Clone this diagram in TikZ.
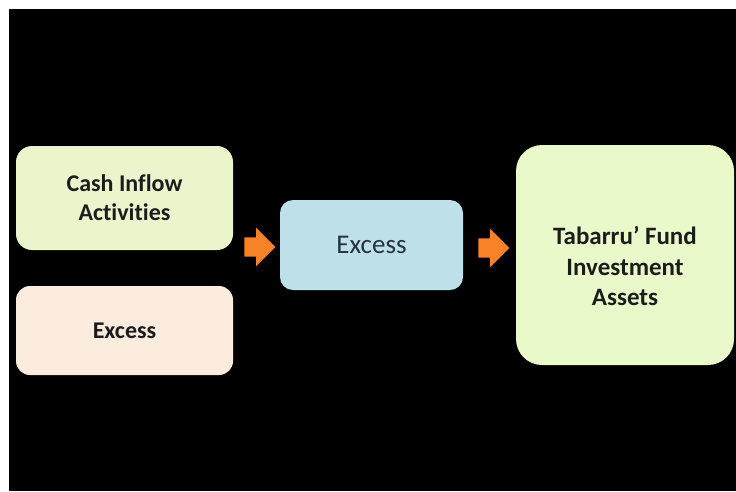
\documentclass[tikz,border=0pt]{standalone}
\usepackage{fontspec}
\setmainfont{Carlito}[Ligatures=NoCommon]
\usetikzlibrary{shapes.arrows}
\definecolor{cashfill}{RGB}{234,245,204}
\definecolor{peachfill}{RGB}{251,236,222}
\definecolor{bluefill}{RGB}{190,224,232}
\definecolor{fundfill}{RGB}{233,249,201}
\definecolor{arroworange}{RGB}{247,130,40}
\definecolor{txtdark}{RGB}{28,28,28}
\definecolor{txtblue}{RGB}{38,50,60}
\tikzset{
  box/.style={fill=#1, draw=none, inner sep=0pt, align=center, text=txtdark},
  boldtxt/.style={font=\fontsize{24}{29}\selectfont\bfseries},
  flowarrow/.style={single arrow, fill=arroworange, draw=none, inner xsep=0pt, inner ysep=9.5pt,
    text height=0pt, text depth=0pt,
    minimum height=31pt, minimum width=38pt, single arrow head extend=9.5pt,
    single arrow head indent=0pt}
}
\begin{document}
\begin{tikzpicture}[x=1pt,y=-1pt]
\useasboundingbox (0,0) rectangle (736,491);
\fill[white] (0,0) rectangle (736,491);
\fill[black] (9,9) rectangle (736,491);

\node[box=cashfill, boldtxt, rounded corners=16pt, minimum width=217pt, minimum height=104pt] (cash) at (124.5,198) {Cash Inflow\\Activities};
\node[box=peachfill, boldtxt, rounded corners=14pt, minimum width=217pt, minimum height=89pt] (excessL) at (124.5,330.5) {Excess};
\node[box=bluefill, text=txtblue, font=\fontsize{27}{32}\selectfont, rounded corners=13pt, minimum width=183pt, minimum height=90pt] (excessM) at (371.5,245) {Excess};
\node[box=fundfill, rounded corners=26pt, minimum width=218pt, minimum height=220pt] (fund) at (625,255) {};
\node[align=center, text=txtdark, inner sep=0pt, font=\fontsize{25}{30.5}\selectfont\bfseries] (fundtext) at ([yshift=-11pt]fund.center) {Tabarru’ Fund\\Investment\\Assets};

\node[flowarrow] (arrow1) at (255,247) {};
\node[flowarrow] (arrow2) at (489,248) {};
\end{tikzpicture}
\end{document}
